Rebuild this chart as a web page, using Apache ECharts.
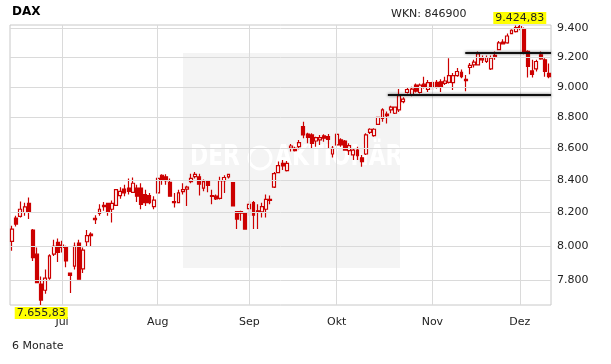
<!DOCTYPE html>
<html><head><meta charset="utf-8">
<script src="https://cdn.jsdelivr.net/npm/echarts@6/dist/echarts.min.js"></script>
<style>html,body{margin:0;padding:0;background:#fff}#c{width:611px;height:364px}</style>
</head><body><div id="c"></div>
<script>
const dates = [
'2013-06-13','2013-06-14','2013-06-17','2013-06-18','2013-06-19','2013-06-20','2013-06-21','2013-06-24','2013-06-25','2013-06-26','2013-06-27','2013-06-28',
'2013-07-01','2013-07-02','2013-07-03','2013-07-04','2013-07-05','2013-07-08','2013-07-09','2013-07-10','2013-07-11','2013-07-12','2013-07-15','2013-07-16','2013-07-17','2013-07-18','2013-07-19','2013-07-22','2013-07-23','2013-07-24','2013-07-25','2013-07-26','2013-07-29','2013-07-30','2013-07-31',
'2013-08-01','2013-08-02','2013-08-05','2013-08-06','2013-08-07','2013-08-08','2013-08-09','2013-08-12','2013-08-13','2013-08-14','2013-08-15','2013-08-16','2013-08-19','2013-08-20','2013-08-21','2013-08-22','2013-08-23','2013-08-26','2013-08-27','2013-08-28','2013-08-29','2013-08-30',
'2013-09-02','2013-09-03','2013-09-04','2013-09-05','2013-09-06','2013-09-09','2013-09-10','2013-09-11','2013-09-12','2013-09-13','2013-09-16','2013-09-17','2013-09-18','2013-09-19','2013-09-20','2013-09-23','2013-09-24','2013-09-25','2013-09-26','2013-09-27','2013-09-30',
'2013-10-01','2013-10-02','2013-10-03','2013-10-04','2013-10-07','2013-10-08','2013-10-09','2013-10-10','2013-10-11','2013-10-14','2013-10-15','2013-10-16','2013-10-17','2013-10-18','2013-10-21','2013-10-22','2013-10-23','2013-10-24','2013-10-25','2013-10-28','2013-10-29','2013-10-30','2013-10-31',
'2013-11-01','2013-11-04','2013-11-05','2013-11-06','2013-11-07','2013-11-08','2013-11-11','2013-11-12','2013-11-13','2013-11-14','2013-11-15','2013-11-18','2013-11-19','2013-11-20','2013-11-21','2013-11-22','2013-11-25','2013-11-26','2013-11-27','2013-11-28','2013-11-29',
'2013-12-02','2013-12-03','2013-12-04','2013-12-05','2013-12-06','2013-12-09','2013-12-10','2013-12-11'
];
const openV = [8026,8166,8176,8200,8256,8094,7950,7776,7740,7810,7950,8020,8004,7994,7840,7880,8016,7864,8024,8070,8164,8194,8244,8256,8220,8244,8304,8344,8350,8324,8350,8350,8310,8304,8236,8320,8430,8420,8386,8266,8260,8328,8344,8390,8422,8420,8350,8394,8304,8300,8286,8396,8420,8384,8206,8206,8200,8224,8260,8210,8204,8220,8280,8356,8447,8505,8459,8602,8600,8611,8740,8692,8686,8647,8654,8680,8675,8564,8622,8654,8647,8585,8558,8589,8540,8564,8703,8682,8755,8794,8822,8849,8827,8849,8904,8964,8946,9014,8964,9020,8984,9030,9032,9036,9025,9032,9030,9077,9100,9052,9132,9150,9150,9195,9173,9123,9214,9254,9306,9301,9365,9379,9414,9400,9242,9109,9123,9219,9184,9093];
const closeV = [8100,8130,8220,8234,8200,7930,7784,7684,7810,7940,7996,7960,7990,7910,7826,7996,7804,7974,8060,8060,8156,8220,8236,8204,8256,8340,8330,8320,8330,8380,8300,8250,8260,8260,8276,8410,8404,8396,8300,8260,8320,8340,8356,8410,8436,8374,8390,8366,8298,8284,8396,8416,8436,8240,8160,8196,8100,8250,8184,8204,8236,8280,8274,8440,8491,8488,8505,8615,8585,8637,8686,8671,8632,8669,8669,8665,8658,8600,8690,8622,8589,8617,8589,8553,8516,8686,8723,8723,8800,8849,8811,8867,8867,8944,8920,8984,8987,8973,9014,9000,9030,8998,9002,9002,9041,9077,9077,9105,9070,9043,9146,9168,9224,9184,9200,9195,9205,9301,9294,9348,9388,9407,9402,9230,9139,9086,9173,9191,9105,9070];
const lowV = [7970,8116,8170,8180,8160,7910,7784,7655.83,7720,7800,7940,7904,7960,7874,7724,7860,7804,7840,7996,7996,8130,8180,8210,8180,8140,8240,8284,8300,8310,8320,8264,8220,8240,8250,8220,8315,8370,8370,8300,8230,8256,8310,8240,8380,8410,8304,8330,8324,8250,8276,8280,8320,8410,8240,8100,8150,8100,8180,8100,8100,8170,8170,8250,8350,8442,8463,8453,8580,8580,8594,8665,8632,8600,8610,8622,8643,8600,8542,8615,8611,8585,8558,8526,8526,8484,8558,8692,8675,8750,8772,8760,8827,8822,8835,8893,8957,8939,8964,8957,8991,8968,8980,8991,8968,9014,9025,8980,9070,9059,8973,9086,9132,9145,9162,9162,9116,9184,9249,9294,9294,9360,9372,9388,9223,9064,9064,9105,9184,9070,9059];
const highV = [8120,8180,8268,8260,8292,8100,7990,7820,7860,7950,8036,8044,8030,8000,7840,8020,8036,7990,8094,8080,8184,8250,8264,8260,8274,8345,8356,8370,8410,8416,8370,8380,8340,8320,8300,8415,8436,8436,8410,8320,8340,8380,8364,8440,8450,8440,8404,8394,8340,8310,8420,8430,8436,8384,8206,8210,8200,8270,8270,8250,8260,8310,8304,8450,8516,8526,8520,8628,8610,8654,8772,8700,8697,8675,8686,8690,8692,8615,8697,8665,8654,8632,8600,8610,8558,8697,8729,8729,8805,8860,8838,8876,8871,8987,8933,8996,9002,9025,9025,9070,9048,9041,9048,9052,9070,9195,9095,9128,9118,9082,9162,9184,9242,9214,9214,9214,9242,9313,9325,9365,9395,9421,9424.83,9407,9250,9184,9184,9242,9195,9160];
const yTicks = [7800,8000,8200,8400,8600,8800,9000,9200,9400];
const monthNames = ['Jan','Feb','Mär','Apr','Mai','Jun','Jul','Aug','Sep','Okt','Nov','Dez'];
const lowPoint = {idx: 7, value: 7655.83};
const highPoint = {idx: 122, value: 9424.83};
const supportLines = [{from: 90.8, value: 8948}, {from: 109.4, value: 9234}];

const fmtDE = (v, dec) => v.toLocaleString('de-DE', {minimumFractionDigits: dec, maximumFractionDigits: dec});
const isMonthStart = i => i > 0 && dates[i].slice(5,7) !== dates[i-1].slice(5,7);
const monthStarts = dates.map((d,i)=>i).filter(isMonthStart);
const candles = dates.map((d,i)=>[openV[i], closeV[i], lowV[i], highV[i]]);
const FONT = 'DejaVu Sans';
const RED = '#cc0000';

const chart = echarts.init(document.getElementById('c'), null, {renderer:'canvas'});
chart.setOption({
  animation: false,
  grid: {left: 10, right: 60, top: 25, bottom: 59, show: true, borderColor: '#c8c8c8', borderWidth: 1, backgroundColor: 'transparent'},
  graphic: [
    {type:'rect', left: 183, top: 53, shape:{width: 217, height: 215}, style:{fill:'#f4f4f4'}, z: 0, silent: true},
    {type:'text', x: 190, y: 144, scaleX: 0.78, style:{text:'DER', fill:'#ffffff', font:'bold 28px "DejaVu Sans"'}, z: 1, silent: true},
    {type:'circle', shape:{cx: 260, cy: 158, r: 11}, style:{fill:'none', stroke:'#ffffff', lineWidth: 3}, z: 1, silent: true},
    {type:'text', x: 275, y: 144, scaleX: 0.78, style:{text:'AKTIONÄR', fill:'#ffffff', font:'bold 28px "DejaVu Sans"'}, z: 1, silent: true},
    {type:'text', left: 12, top: 6, style:{text:'DAX', fill:'#000', font:'bold 12px "DejaVu Sans"'}},
    {type:'text', left: 391, top: 9, style:{text:'WKN: 846900', fill:'#222', font:'11px "DejaVu Sans"'}},
    {type:'text', left: 12, top: 341, style:{text:'6 Monate', fill:'#222', font:'11px "DejaVu Sans"'}}
  ],
  xAxis: [
    {type:'category', data: dates, boundaryGap: true,
     axisLine:{show:false}, axisTick:{show:false}, splitLine:{show:false},
     axisLabel:{interval: (i)=>isMonthStart(i), formatter: (v)=>monthNames[+v.slice(5,7)-1], margin: 12,
       color:'#222', fontFamily: FONT, fontSize: 11}},
    {type:'value', min: 0, max: dates.length, show: false}
  ],
  yAxis: [{type:'log', min: 7655.83, max: 9424.83, show: false, splitLine:{show:false}, axisLabel:{show:false}}],
  series: [
    {type:'line', name:'grid', xAxisIndex:0, yAxisIndex:0, data: [], z: 1, silent: true,
     markLine: {silent: true, symbol:['none','none'], animation:false,
       lineStyle:{color:'#dadada', width:1, type:'solid'},
       label:{show:true, position:'end', distance: 6, color:'#222', fontFamily: FONT, fontSize: 11},
       data: [
         ...yTicks.map(v => ({yAxis: v, label:{formatter: fmtDE(v,0)}})),
         ...monthStarts.map(i => ({xAxis: dates[i], label:{show:false}}))
       ]}},
    {type:'candlestick', name:'DAX', xAxisIndex:0, yAxisIndex:0, data: candles, z: 3, barWidth: 3.4,
     itemStyle:{color:'#ffffff', color0: RED, borderColor: RED, borderColor0: RED, borderWidth: 1.2},
     markPoint: {silent: true, symbol:'rect', symbolSize: 0, animation:false,
       data: [
         {coord:[dates[lowPoint.idx], lowPoint.value], label:{show:true, position:'bottom', distance: 2, formatter: fmtDE(lowPoint.value,2),
           backgroundColor:'#ffff00', color:'#222', padding:[1,2,0,2], fontFamily: FONT, fontSize: 11}},
         {coord:[dates[highPoint.idx], highPoint.value], label:{show:true, position:'top', distance: 1, formatter: fmtDE(highPoint.value,2),
           backgroundColor:'#ffff00', color:'#222', padding:[1,2,0,2], fontFamily: FONT, fontSize: 11}}
       ]}},
    {type:'line', name:'levels', xAxisIndex:1, yAxisIndex:0, data: [], z: 4, silent: true,
     markLine: {silent:true, symbol:['none','none'], animation:false, label:{show:false},
       lineStyle:{color:'#111', width:2, type:'solid', shadowColor:'rgba(0,0,0,0.6)', shadowBlur:3},
       data: supportLines.map(s => [{coord:[s.from, s.value]}, {coord:[dates.length, s.value]}])}}
  ]
});
</script></body></html>
